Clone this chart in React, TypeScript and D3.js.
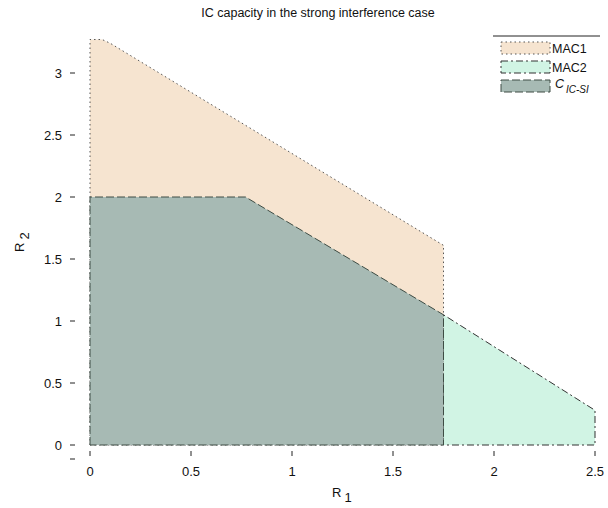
import React from 'react';
import * as d3 from 'd3';

// region corners as [R1, R2]
const mac1: [number, number][] = [
	[0, 0], [0, 3.27], [0.06, 3.27], [0.1, 3.24], [1.75, 1.61], [1.75, 0],
];
const mac2: [number, number][] = [
	[1.75, 0], [1.75, 1.05], [2.5, 0.28], [2.5, 0],
];
const capacity: [number, number][] = [
	[0, 0], [0, 2], [0.77, 2], [1.75, 1.05], [1.75, 0],
];
const xTicks = [0, 0.5, 1, 1.5, 2, 2.5];
const yTicks = [0, 0.5, 1, 1.5, 2, 2.5, 3];
const legendNames = ['MAC1', 'MAC2'];

const font = 'Liberation Sans, Arial, sans-serif';

const App = () => {
	const x = d3.scaleLinear().domain([0, 2.5]).range([90, 595]),
		y = d3.scaleLinear().domain([0, 3]).range([445, 73]),
		line = d3
			.line<[number, number]>()
			.x((d) => x(d[0]))
			.y((d) => y(d[1]))
			.curve(d3.curveLinearClosed);

	const styles = [
		{ fill: '#f6e4d0', stroke: '#555', dash: '1.5 3' },
		{ fill: '#d1f4e4', stroke: '#333', dash: '7 3 2 3' },
		{ fill: '#a7bab4', stroke: '#3e4c44', dash: '8 3' },
	];
	const regions = [mac1, mac2, capacity];

	return (
		<svg width={608} height={508} style={{ position: 'absolute', left: 0, top: 0 }} fontFamily={font}>
			<rect width={608} height={508} fill="#fff" />
			<text x={318} y={17} fontSize={12.5} textAnchor="middle" fill="#111">
				IC capacity in the strong interference case
			</text>
			{regions.map((r, i) => (
				<path
					key={i}
					d={line(r) || ''}
					fill={styles[i].fill}
					stroke={styles[i].stroke}
					strokeWidth={1}
					strokeDasharray={styles[i].dash}
				/>
			))}
			{yTicks.map((t) => (
				<g key={'y' + t}>
					<text x={62} y={y(t) + 5} fontSize={13} textAnchor="end" fill="#111">
						{t}
					</text>
					<line x1={70} x2={75} y1={y(t)} y2={y(t)} stroke="#222" />
				</g>
			))}
			<line x1={70} x2={75} y1={459} y2={459} stroke="#222" />
			{xTicks.map((t) => (
				<g key={'x' + t}>
					<line x1={x(t)} x2={x(t)} y1={451} y2={456} stroke="#222" />
					<text x={x(t)} y={476} fontSize={13} textAnchor="middle" fill="#111">
						{t}
					</text>
				</g>
			))}
			<text x={332} y={497} fontSize={13} fill="#111">
				R<tspan dx={3} dy={5}>1</tspan>
			</text>
			<text transform="translate(24,252) rotate(-90)" fontSize={13} fill="#111">
				R<tspan dx={3} dy={5}>2</tspan>
			</text>
			<line x1={493} x2={600} y1={36} y2={36} stroke="#222" />
			{styles.map((s, i) => (
				<rect
					key={'l' + i}
					x={501}
					y={42 + i * 19}
					width={49}
					height={12}
					fill={s.fill}
					stroke={s.stroke}
					strokeDasharray={s.dash}
				/>
			))}
			{legendNames.map((n, i) => (
				<text key={n} x={552} y={53 + i * 19} fontSize={12.5} fill="#111">
					{n}
				</text>
			))}
			<text x={555} y={88} fontSize={12.5} fontStyle="italic" fill="#111">
				C<tspan dx={2} dy={5} fontSize={10}>IC-SI</tspan>
			</text>
		</svg>
	);
};

export default App;
